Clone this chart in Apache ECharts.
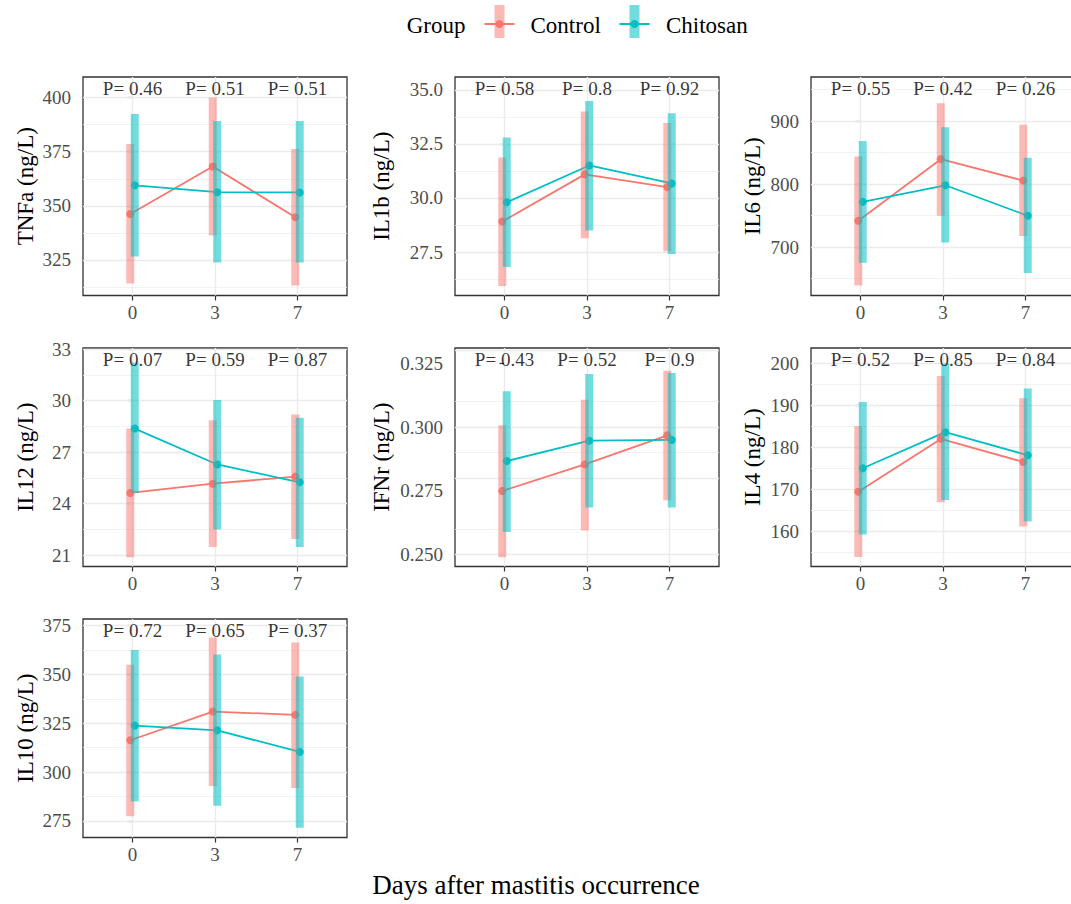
<!DOCTYPE html>
<html>
<head>
<meta charset="utf-8">
<script src="https://cdn.jsdelivr.net/npm/echarts@6/dist/echarts.min.js"></script>
<style>
  html, body { margin: 0; padding: 0; background: #ffffff; }
  #chart { width: 1071px; height: 904px; }
</style>
</head>
<body>
<div id="chart"></div>
<script>
// Sampling days and groups
const days = ['0', '3', '7'];
const groups = ['Control', 'Chitosan'];
const markers = ['TNFa', 'IL1b', 'IL6', 'IL12', 'IFNr', 'IL4', 'IL10'];

// Group means and error-bar limits, one row per marker (same order as `markers`)
const controlMean = [
  [346.2, 368.2, 344.7],
  [28.91, 31.09, 30.50],
  [741.9, 839.5, 805.5],
  [24.62, 25.16, 25.57],
  [0.2750, 0.2854, 0.2968],
  [169.4, 182.0, 176.5],
  [316.3, 331.0, 329.3]
];
const controlLow = [
  [314.1, 336.3, 313.2],
  [25.93, 28.14, 27.53],
  [639.0, 749.8, 717.8],
  [20.88, 21.47, 21.94],
  [0.2490, 0.2595, 0.2713],
  [153.8, 166.9, 161.1],
  [277.4, 292.8, 291.8]
];
const controlHigh = [
  [378.6, 400.0, 376.3],
  [31.87, 34.00, 33.46],
  [843.8, 928.3, 894.2],
  [28.37, 28.86, 29.19],
  [0.3008, 0.3108, 0.3221],
  [185.1, 197.0, 191.7],
  [355.0, 369.0, 366.4]
];
const chitosanMean = [
  [359.5, 356.3, 356.2],
  [29.80, 31.50, 30.67],
  [771.8, 798.1, 749.8],
  [28.37, 26.28, 25.24],
  [0.2867, 0.2947, 0.2950],
  [175.0, 183.6, 178.1],
  [323.8, 321.4, 310.3]
];
const chitosanLow = [
  [326.6, 323.8, 323.8],
  [26.81, 28.49, 27.41],
  [675.3, 707.2, 659.0],
  [24.64, 22.49, 21.47],
  [0.2589, 0.2685, 0.2685],
  [159.2, 167.4, 162.3],
  [284.9, 282.7, 271.4]
];
const chitosanHigh = [
  [392.4, 389.2, 389.2],
  [32.79, 34.48, 33.92],
  [868.5, 890.0, 841.7],
  [32.22, 30.03, 29.00],
  [0.3141, 0.3209, 0.3213],
  [190.8, 200.0, 194.0],
  [362.5, 360.3, 349.0]
];

// P-values printed above each day
const pValues = [
  ['0.46', '0.51', '0.51'],
  ['0.58', '0.8', '0.92'],
  ['0.55', '0.42', '0.26'],
  ['0.07', '0.59', '0.87'],
  ['0.43', '0.52', '0.9'],
  ['0.52', '0.85', '0.84'],
  ['0.72', '0.65', '0.37']
];

// y tick labels and visible y ranges per marker
const yTickLabels = [
  ['325', '350', '375', '400'],
  ['27.5', '30.0', '32.5', '35.0'],
  ['700', '800', '900'],
  ['21', '24', '27', '30', '33'],
  ['0.250', '0.275', '0.300', '0.325'],
  ['160', '170', '180', '190', '200'],
  ['275', '300', '325', '350', '375']
];
const yDomains = [
  [308.6, 409.5],
  [25.49, 35.59],
  [623.3, 969.8],
  [20.34, 33.06],
  [0.24535, 0.33106],
  [151.55, 203.69],
  [266.45, 378.44]
];

// ---- layout & style ----
const FONT = "'Liberation Serif', 'Times New Roman', serif";
const COLORS = ['#F8766D', '#00BFC4'];
const BAR_OPACITY = [0.5, 0.55];
const colLeft = [83, 455, 811];
const colWidth = 264;
const rowTop = [77, 348, 619];
const rowHeight = 218.5;
const nameGaps = [46, 62, 47];
const dodge = 0.027;
const xPos = days.map((d, j) => j);

const grids = [], xAxes = [], yAxes = [], series = [];

function minorValues(ticks, domain) {
  const step = ticks[1] - ticks[0];
  const out = [];
  for (let k = -3; k < ticks.length + 3; k++) {
    const v = ticks[0] + step * (k + 0.5);
    if (v > domain[0] && v < domain[1]) out.push(v);
  }
  return out;
}

markers.forEach((m, i) => {
  const row = Math.floor(i / 3), col = i % 3;
  const ticks = yTickLabels[i].map(Number);
  const domain = yDomains[i];

  grids.push({
    left: colLeft[col], top: rowTop[row], width: colWidth, height: rowHeight,
    show: true, borderColor: '#333333', borderWidth: 1.3,
    backgroundColor: 'rgba(0,0,0,0)', containLabel: false, outerBoundsMode: 'none'
  });

  xAxes.push({
    gridIndex: i, type: 'value', min: -0.6, max: 2.6,
    axisLine: { show: false },
    splitLine: { show: false },
    axisTick: { show: true, customValues: xPos, length: 5, lineStyle: { color: '#333333', width: 1.2 } },
    axisLabel: {
      customValues: xPos, formatter: v => days[Math.round(v)],
      color: '#4D4D4D', fontSize: 19, fontFamily: FONT, margin: 7
    }
  });

  yAxes.push({
    gridIndex: i, type: 'value', min: domain[0], max: domain[1],
    axisLine: { show: false },
    splitLine: { show: false },
    axisTick: { show: true, customValues: ticks, length: 5, lineStyle: { color: '#333333', width: 1.2 } },
    axisLabel: {
      customValues: ticks,
      formatter: v => {
        const k = ticks.findIndex(t => Math.abs(t - v) < 1e-9 * Math.max(1, Math.abs(t)) + 1e-12);
        return k >= 0 ? yTickLabels[i][k] : '';
      },
      color: '#4D4D4D', fontSize: 19, fontFamily: FONT, margin: 12
    },
    name: m + ' (ng/L)', nameLocation: 'middle', nameGap: nameGaps[col],
    nameMoveOverlap: false,
    nameTextStyle: { fontSize: 23, color: '#000000', fontFamily: FONT }
  });

  // panel grid lines, kept beneath the data marks
  const lines = [];
  ticks.forEach(v => lines.push({ yAxis: v, lineStyle: { color: '#EBEBEB', width: 1.4, type: 'solid' } }));
  minorValues(ticks, domain).forEach(v => lines.push({ yAxis: v, lineStyle: { color: '#EFEFEF', width: 0.8, type: 'solid' } }));
  xPos.forEach(v => lines.push({ xAxis: v, lineStyle: { color: '#EBEBEB', width: 1.4, type: 'solid' } }));
  series.push({
    type: 'line', xAxisIndex: i, yAxisIndex: i, data: [], silent: true, z: 1,
    markLine: {
      z: 1, silent: true, symbol: ['none', 'none'], label: { show: false },
      emphasis: { disabled: true }, animation: false, data: lines
    }
  });

  const means = [controlMean[i], chitosanMean[i]];
  const lows = [controlLow[i], chitosanLow[i]];
  const highs = [controlHigh[i], chitosanHigh[i]];

  // mean lines with points
  groups.forEach((g, gi) => {
    const off = gi === 0 ? -dodge : dodge;
    series.push({
      name: g, type: 'line', xAxisIndex: i, yAxisIndex: i, z: 2,
      data: means[gi].map((v, j) => [xPos[j] + off, v]),
      symbol: 'circle', symbolSize: 8, showSymbol: true,
      itemStyle: { color: COLORS[gi] },
      lineStyle: { color: COLORS[gi], width: 1.8 },
      emphasis: { disabled: true }
    });
  });

  // translucent error bars drawn over the lines
  groups.forEach((g, gi) => {
    const off = gi === 0 ? -dodge : dodge;
    series.push({
      name: g, type: 'custom', xAxisIndex: i, yAxisIndex: i, z: 3,
      data: lows[gi].map((lo, j) => [xPos[j] + off, lo, highs[gi][j]]),
      encode: { x: 0, y: [1, 2] },
      renderItem: (params, api) => {
        const top = api.coord([api.value(0), api.value(2)]);
        const bot = api.coord([api.value(0), api.value(1)]);
        return {
          type: 'rect',
          shape: { x: top[0] - 4, y: top[1], width: 8, height: bot[1] - top[1] },
          style: { fill: COLORS[gi], opacity: BAR_OPACITY[gi] }
        };
      },
      silent: true
    });
  });

  // P-value annotations near the top of the panel
  const pY = domain[1] - (domain[1] - domain[0]) * (11.5 / rowHeight);
  series.push({
    type: 'scatter', xAxisIndex: i, yAxisIndex: i, z: 5, silent: true,
    data: pValues[i].map((p, j) => [xPos[j], pY]),
    symbolSize: 0,
    label: {
      show: true, position: 'inside',
      formatter: params => 'P= ' + pValues[i][params.dataIndex],
      color: '#000000', fontSize: 19, fontFamily: FONT
    }
  });
});

// legend keys and shared x title
const legendY = 24;
const graphic = [
  { type: 'text', x: 406.7, y: 25, style: { text: 'Group', fill: '#000', fontSize: 23, fontFamily: FONT, verticalAlign: 'middle', align: 'left' } }
];
[[499.5, 530.5], [634.5, 666]].forEach((pos, gi) => {
  const cx = pos[0];
  graphic.push(
    { type: 'line', shape: { x1: cx - 15, y1: legendY, x2: cx + 15, y2: legendY }, style: { stroke: COLORS[gi], lineWidth: 2 } },
    { type: 'circle', shape: { cx: cx, cy: legendY, r: 4 }, style: { fill: COLORS[gi] } },
    { type: 'rect', shape: { x: cx - 5, y: 5, width: 10, height: 33 }, style: { fill: COLORS[gi], opacity: BAR_OPACITY[gi] } },
    { type: 'text', x: pos[1], y: 25, style: { text: groups[gi], fill: '#000', fontSize: 23, fontFamily: FONT, verticalAlign: 'middle', align: 'left' } }
  );
});
graphic.push({
  type: 'text', x: 536, y: 885,
  style: { text: 'Days after mastitis occurrence', fill: '#000', fontSize: 27, fontFamily: FONT, align: 'center', verticalAlign: 'middle' }
});

const chart = echarts.init(document.getElementById('chart'), null, { renderer: 'svg' });
chart.setOption({
  animation: false,
  backgroundColor: '#ffffff',
  grid: grids,
  xAxis: xAxes,
  yAxis: yAxes,
  series: series,
  graphic: graphic
});
</script>
</body>
</html>
